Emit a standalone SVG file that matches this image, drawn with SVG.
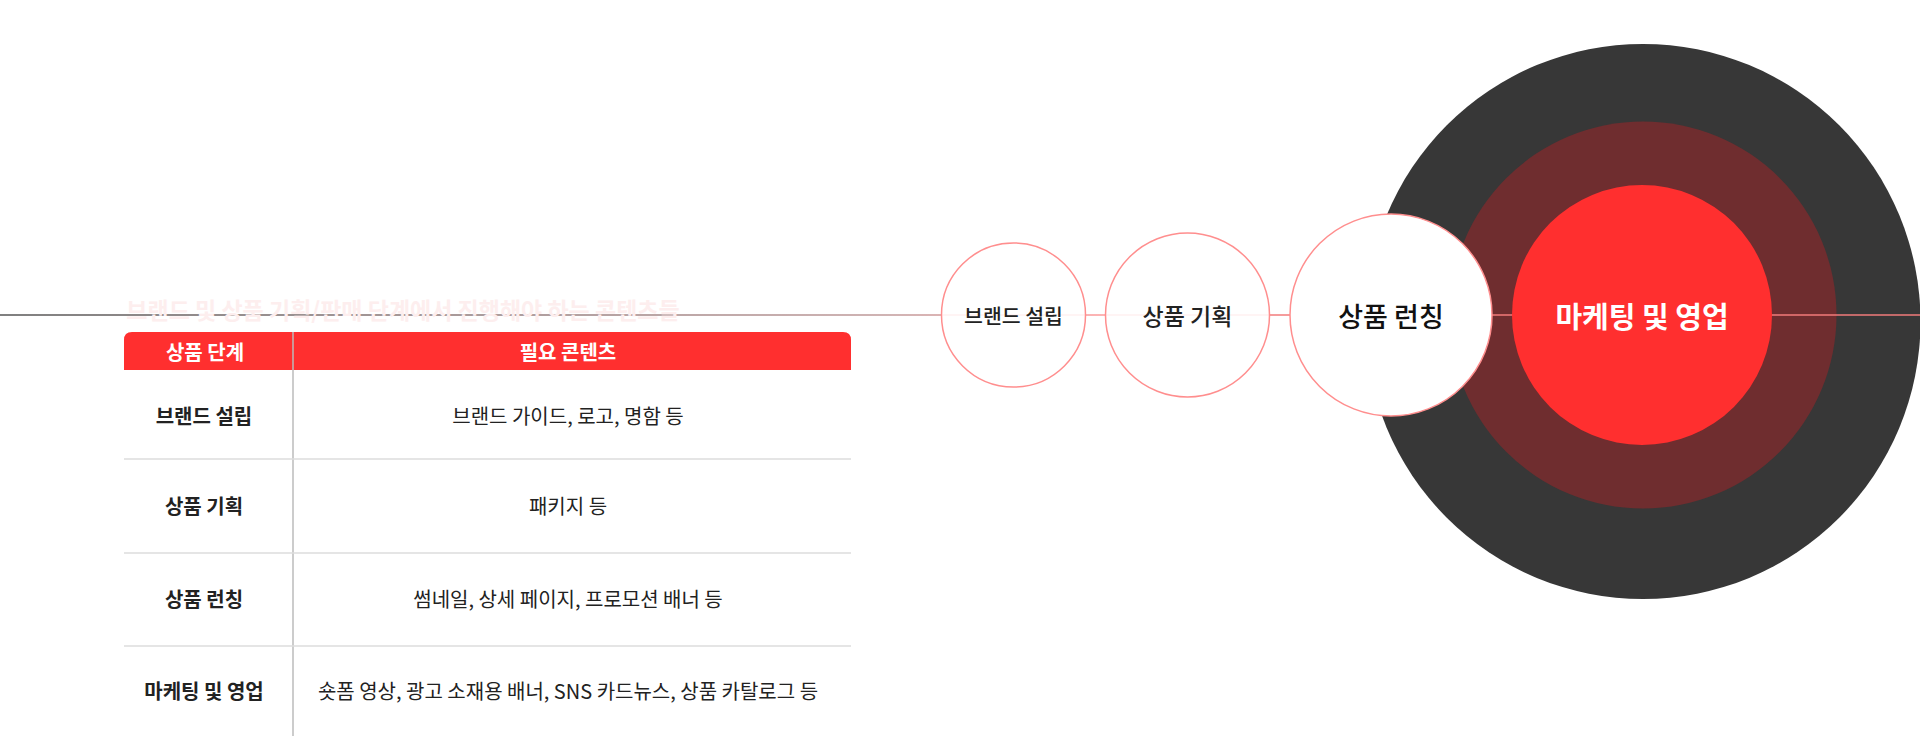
<svg xmlns="http://www.w3.org/2000/svg" width="1920" height="736" viewBox="0 0 1920 736">
<defs>
<linearGradient id="lineGrad" gradientUnits="userSpaceOnUse" x1="0" y1="0" x2="1110" y2="0">
<stop offset="0" stop-color="#555555"/>
<stop offset="0.8" stop-color="#c09a9a"/>
<stop offset="1" stop-color="#ff9a9a"/>
</linearGradient>
<style>
text{font-family:"Noto Sans CJK KR","Noto Sans",sans-serif;text-anchor:middle;dominant-baseline:central}
.stage{fill:#ffffff;stroke:#ff8e8e;stroke-width:1.5}
.hd{fill:#ffffff;font-size:20px;font-weight:700}
.c1{fill:#222222;font-size:20px;font-weight:700}
.c2{fill:#222222;font-size:20px;font-weight:400}
.sep{stroke:#dddddd;stroke-width:1.5}
</style>
</defs>
<g id="rings">
<circle cx="1643" cy="321.5" r="277.5" fill="#373737"/>
<circle cx="1643" cy="315" r="193.5" fill="#6f2d2f"/>
</g>
<g id="connectors">
<line x1="0" y1="315" x2="1120" y2="315" stroke="url(#lineGrad)" stroke-width="1.5"/>
<line x1="1120" y1="315" x2="1920" y2="315" stroke="#f27b7b" stroke-width="1.5"/>
</g>
<g id="title">
<text x="403" y="309" style="fill:#fdeeee;font-size:23px;font-weight:700">브랜드 및 상품 기획/판매 단계에서 진행해야 하는 콘텐츠들</text>
</g>
<g id="node-brand">
<circle class="stage" cx="1013.5" cy="315" r="72"/>
<line x1="942" y1="315" x2="1085" y2="315" stroke="#ff9a9a" stroke-opacity="0.15" stroke-width="1.5"/>
<text x="1013.5" y="315" style="fill:#222;font-size:20.5px;font-weight:500">브랜드 설립</text>
</g>
<g id="node-planning">
<circle class="stage" cx="1187.5" cy="315" r="82"/>
<line x1="1106" y1="315" x2="1269" y2="315" stroke="#ff9a9a" stroke-opacity="0.15" stroke-width="1.5"/>
<text x="1187.5" y="315" style="fill:#222;font-size:23px;font-weight:500">상품 기획</text>
</g>
<g id="node-launch">
<circle class="stage" cx="1391" cy="315" r="101"/>
<text x="1391" y="315" style="fill:#111;font-size:27px;font-weight:500">상품 런칭</text>
</g>
<g id="node-marketing">
<circle cx="1642" cy="315" r="130" fill="#ff2f2f"/>
<text x="1642" y="315" style="fill:#ffffff;font-size:29px;font-weight:700">마케팅 및 영업</text>
</g>
<g id="table">
<path d="M124 340 Q124 332 132 332 L843 332 Q851 332 851 340 L851 370 L124 370 Z" fill="#ff2f2f"/>
<line x1="293" y1="332" x2="293" y2="736" stroke="#bbbbbb" stroke-width="1.5"/>
<line class="sep" x1="124" y1="459" x2="851" y2="459"/>
<line class="sep" x1="124" y1="553" x2="851" y2="553"/>
<line class="sep" x1="124" y1="646" x2="851" y2="646"/>
<text class="hd" x="205" y="351">상품 단계</text>
<text class="hd" x="568" y="351">필요 콘텐츠</text>
<text class="c1" x="204" y="415">브랜드 설립</text>
<text class="c2" x="568" y="415">브랜드 가이드, 로고, 명함 등</text>
<text class="c1" x="204" y="505">상품 기획</text>
<text class="c2" x="568" y="505">패키지 등</text>
<text class="c1" x="204" y="598">상품 런칭</text>
<text class="c2" x="568" y="598">썸네일, 상세 페이지, 프로모션 배너 등</text>
<text class="c1" x="204" y="690">마케팅 및 영업</text>
<text class="c2" x="568" y="690">숏폼 영상, 광고 소재용 배너, SNS 카드뉴스, 상품 카탈로그 등</text>
</g>
</svg>
